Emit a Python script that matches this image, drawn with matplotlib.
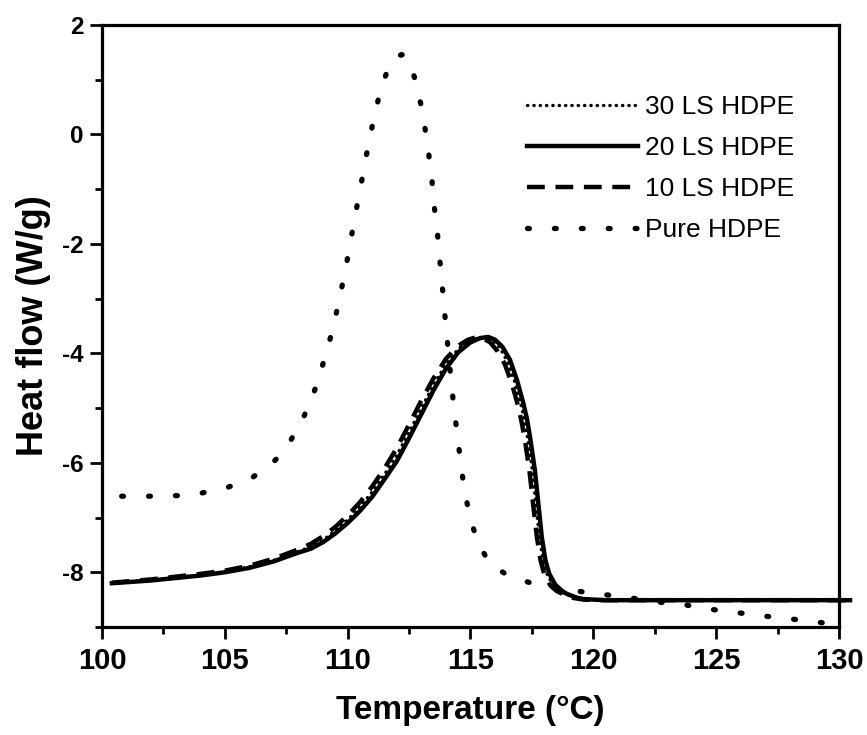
import matplotlib
matplotlib.use("Agg")
import matplotlib.pyplot as plt
from matplotlib.ticker import MultipleLocator

plt.rcParams['font.family'] = ['Liberation Sans', 'DejaVu Sans']
plt.rcParams['axes.unicode_minus'] = False

# ---- data ----
t_pure = [100.8, 101.99, 103.04, 104.08, 105.11, 106.12, 107.06, 107.67, 108.15, 108.58,
          108.91, 109.21, 109.46, 109.69, 109.9, 110.09, 110.27, 110.47, 110.66, 110.85,
          111.07, 111.31, 111.64, 111.95, 112.2, 112.4, 112.6, 112.8, 112.97, 113.15, 113.3,
          113.43, 113.52, 113.65, 113.74, 113.84, 113.93, 114.03, 114.13, 114.23, 114.34,
          114.48, 114.6, 114.75, 114.95, 115.25, 115.77, 116.6, 117.5, 118.5, 119.6,
          120.67, 121.7, 122.78, 123.8, 124.84, 125.9, 126.95, 128.0, 129.06, 129.9]
y_pure = [-6.61, -6.61, -6.60, -6.55, -6.45, -6.27, -5.95, -5.60, -5.22, -4.78,
          -4.32, -3.87, -3.42, -2.95, -2.49, -2.03, -1.56, -1.10, -0.63, -0.17,
          0.30, 0.76, 1.20, 1.41, 1.46, 1.41, 1.22, 0.92, 0.57, 0.11, -0.36,
          -0.83, -1.30, -1.78, -2.24, -2.71, -3.18, -3.65, -4.12, -4.59, -5.05,
          -5.54, -6.01, -6.48, -6.94, -7.40, -7.84, -8.08, -8.20, -8.29, -8.36,
          -8.42, -8.48, -8.55, -8.60, -8.68, -8.74, -8.80, -8.85, -8.91, -8.95]

t_20 = [100.4, 102.0, 104.0, 105.0, 106.0, 107.0, 108.0, 108.5, 109.0, 109.5,
        110.0, 110.5, 111.0, 111.5, 112.0, 112.5, 113.0, 113.5, 114.0, 114.5,
        115.0, 115.4, 115.72, 116.0, 116.3, 116.61, 116.9, 117.15, 117.3, 117.42,
        117.62, 117.76, 117.9, 118.05, 118.2, 118.44, 118.7, 118.9, 119.3, 119.6,
        120.5, 125.0, 130.45]
y_20 = [-8.20, -8.15, -8.06, -8.00, -7.92, -7.80, -7.64, -7.57, -7.45, -7.29,
        -7.10, -6.88, -6.62, -6.30, -5.97, -5.55, -5.11, -4.67, -4.28, -3.98,
        -3.80, -3.72, -3.70, -3.75, -3.88, -4.12, -4.50, -4.91, -5.20, -5.52,
        -6.13, -6.74, -7.35, -7.78, -8.02, -8.22, -8.33, -8.39, -8.46, -8.49,
        -8.51, -8.51, -8.51]

t_10 = [100.4, 102.0, 104.0, 105.0, 106.0, 107.0, 108.0, 108.5, 109.0, 109.5,
        110.0, 110.5, 111.0, 111.5, 112.0, 112.5, 113.0, 113.5, 114.0, 114.5,
        114.9, 115.2, 115.5, 115.8, 116.1, 116.4, 116.7, 116.95, 117.1, 117.22,
        117.4, 117.55, 117.7, 117.85, 118.0, 118.25, 118.5, 118.8, 119.2, 119.6,
        120.5, 125.0, 130.45]
y_10 = [-8.19, -8.13, -8.03, -7.97, -7.88, -7.75, -7.58, -7.48, -7.34, -7.17,
        -6.96, -6.72, -6.43, -6.10, -5.73, -5.30, -4.86, -4.45, -4.10, -3.86,
        -3.75, -3.71, -3.72, -3.80, -3.96, -4.20, -4.58, -4.98, -5.30, -5.60,
        -6.15, -6.76, -7.35, -7.78, -8.03, -8.24, -8.34, -8.41, -8.47, -8.50,
        -8.51, -8.51, -8.51]

t_30 = [100.4, 102.0, 104.0, 105.0, 106.0, 107.0, 108.0, 108.5, 109.0, 109.5,
        110.0, 110.5, 111.0, 111.5, 112.0, 112.5, 113.0, 113.5, 114.0, 114.5,
        114.9, 115.3, 115.6, 115.9, 116.2, 116.5, 116.8, 117.05, 117.2, 117.32,
        117.52, 117.66, 117.8, 117.95, 118.1, 118.35, 118.6, 118.85, 119.25, 119.6,
        120.5, 125.0, 130.45]
y_30 = [-8.20, -8.14, -8.05, -7.99, -7.90, -7.78, -7.62, -7.53, -7.41, -7.24,
        -7.04, -6.81, -6.53, -6.21, -5.86, -5.44, -5.00, -4.57, -4.20, -3.92,
        -3.78, -3.72, -3.71, -3.76, -3.90, -4.15, -4.52, -4.93, -5.22, -5.54,
        -6.14, -6.75, -7.35, -7.78, -8.02, -8.23, -8.33, -8.40, -8.46, -8.49,
        -8.51, -8.51, -8.51]

labels = ['30 LS HDPE', '20 LS HDPE', '10 LS HDPE', 'Pure HDPE']

# ---- figure ----
fig = plt.figure(figsize=(8.67, 7.35), dpi=100)
ax = fig.add_axes([102/867, 1-627/735, (839-102)/867, (627-25)/735])

l30, = ax.plot(t_30, y_30, color='black', lw=2.4, linestyle=(0, (0.1, 1.8)),
               dash_capstyle='round', clip_on=False)
l20, = ax.plot(t_20, y_20, color='black', lw=3.2, linestyle='-', clip_on=False)
l10, = ax.plot(t_10, y_10, color='black', lw=3.2, linestyle=(0, (4.0, 2.4)),
               clip_on=False)
lp, = ax.plot(t_pure, y_pure, color='black', lw=3.8, linestyle=(0, (0.35, 4.75)),
              dash_capstyle='round', clip_on=False)

ax.set_xlim(100, 130)
ax.set_ylim(-9, 2)
ax.xaxis.set_major_locator(MultipleLocator(5))
ax.xaxis.set_minor_locator(MultipleLocator(2.5))
ax.yaxis.set_major_locator(MultipleLocator(2))
ax.yaxis.set_minor_locator(MultipleLocator(1))
ax.tick_params(which='both', direction='out', width=2.0, top=False, right=False)
ax.tick_params(which='major', length=8.5)
ax.tick_params(which='minor', length=5)
ax.tick_params(axis='x', which='major', labelsize=21, pad=6)
ax.tick_params(axis='y', which='major', labelsize=17.5, pad=5)
for lab in ax.get_xticklabels() + ax.get_yticklabels():
    lab.set_fontweight('bold')
for s in ax.spines.values():
    s.set_linewidth(2.3)

ax.set_xlabel('Temperature (°C)', fontsize=24, fontweight='bold', labelpad=14)
ax.set_ylabel('Heat flow (W/g)', fontsize=26, fontweight='bold', labelpad=8)

ax.legend([l30, l20, l10, lp], labels, loc='upper left',
          bbox_to_anchor=(0.577, 0.883), frameon=False, fontsize=19,
          handlelength=4.2, handletextpad=0.27, labelspacing=0.64,
          borderpad=0, borderaxespad=0)

fig.savefig('out.png', dpi=100)
